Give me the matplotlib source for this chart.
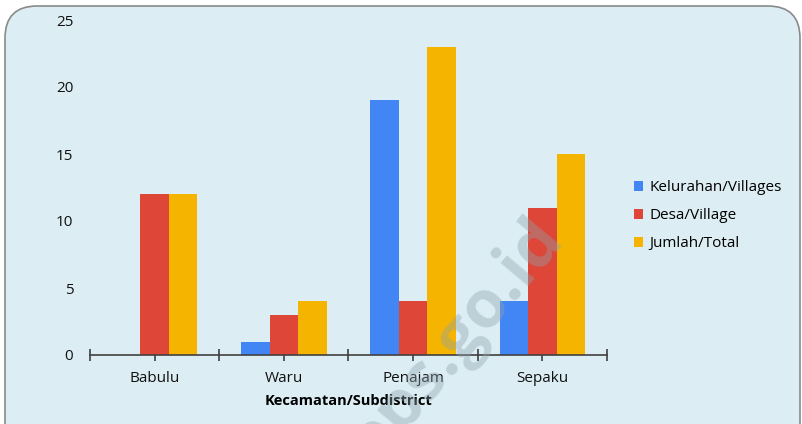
import matplotlib
matplotlib.use("Agg")
import matplotlib.pyplot as plt
import numpy as np
from matplotlib.patches import FancyBboxPatch

categories = ["Babulu", "Waru", "Penajam", "Sepaku"]
kelurahan = [0, 1, 19, 4]
desa = [12, 3, 4, 11]
jumlah = [12, 4, 23, 15]
series_names = ["Kelurahan/Villages", "Desa/Village", "Jumlah/Total"]
colors = ["#4285F4", "#DE4638", "#F4B400"]
yticks = [0, 5, 10, 15, 20, 25]

plt.rcParams['font.family'] = ['Open Sans', 'DejaVu Sans']

fig = plt.figure(figsize=(8.03, 4.24), dpi=100)
bg = "#DCEDF3"
box = FancyBboxPatch((5/803, -0.2), 795/803, 1.2 - 6/424, boxstyle="round,pad=0,rounding_size=0.04",
                     transform=fig.transFigure, facecolor=bg, edgecolor="#8A8A8A", linewidth=1.2,
                     mutation_aspect=803/424, zorder=-5)
fig.patches.append(box)

ax = fig.add_axes([90/803, 69/424, 517/803, 335/424])
ax.set_facecolor("none")
x = np.arange(len(categories))
w = 0.221
for i, (vals, name, c) in enumerate(zip([kelurahan, desa, jumlah], series_names, colors)):
    ax.bar(x + (i - 1) * w, vals, width=w, color=c, label=name, zorder=2)

ax.set_xlim(-0.5, 3.5)
ax.set_ylim(0, 25)
ax.set_yticks(yticks)
ax.tick_params(axis='y', length=0, pad=12, labelsize=11, labelcolor="#111111")
for s in ["top", "right", "left"]:
    ax.spines[s].set_visible(False)
ax.spines["bottom"].set_color("#404040")
ax.spines["bottom"].set_linewidth(1.2)
ax.spines["bottom"].set_zorder(3)
ax.set_xticks(np.arange(-0.5, 4, 1))
ax.set_xticklabels([])
ax.set_xticks(x, minor=True)
ax.set_xticklabels(categories, minor=True)
ax.tick_params(axis='x', which='both', direction='inout', length=9, width=1.2, color="#404040")
ax.tick_params(axis='x', which='minor', labelsize=11, pad=7, labelcolor="#111111")
ax.set_xlabel("Kecamatan/Subdistrict", fontsize=10.5, fontweight="bold", labelpad=6)

leg = ax.legend(loc="center left", bbox_to_anchor=(1.025, 0.415), frameon=False, fontsize=11,
                handlelength=0.6, handleheight=0.6, handletextpad=0.45, labelspacing=0.85)

fig.text(455/803, 1 - 340/424, "bps.go.id", fontsize=48, fontweight="bold", color="#8FA4AE",
         alpha=0.4, rotation=50, ha="center", va="center", zorder=10)

fig.savefig("out.png", dpi=100)
